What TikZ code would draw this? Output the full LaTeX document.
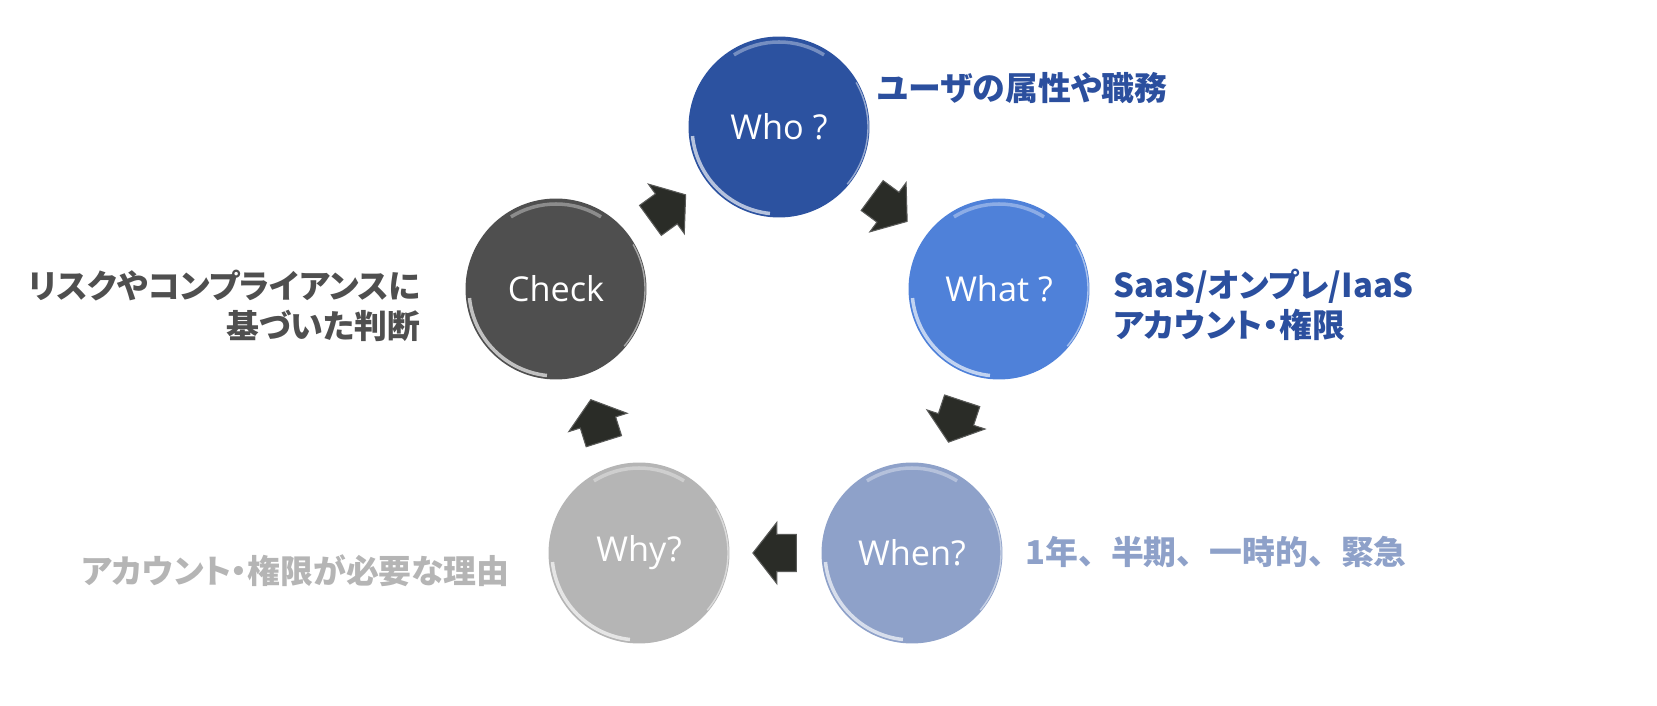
\documentclass[tikz,border=0pt]{standalone}
\usepackage{fontspec}
\setmainfont{Open Sans}
\newfontfamily\jpfont{Noto Sans CJK JP}[RawFeature=+palt]
\newfontfamily\jpfull{Noto Sans CJK JP}
\usetikzlibrary{calc,shapes.arrows}
\definecolor{whoBlue}{RGB}{44,82,160}
\definecolor{whatBlue}{RGB}{79,129,217}
\definecolor{whenBlue}{RGB}{142,161,201}
\definecolor{whyGray}{RGB}{181,181,181}
\definecolor{checkGray}{RGB}{79,79,79}
\definecolor{arrowDark}{RGB}{42,44,39}
\definecolor{labelBlue}{RGB}{43,79,158}

% light rim on a stage circle
\newcommand{\rim}[1]{%
  \draw[white, opacity=0.65, line width=2pt] ([shift={(186:87)}]#1.center) arc[start angle=186, end angle=264, radius=87];
  \draw[white, opacity=0.35, line width=2pt] ([shift={(58:85)}]#1.center) arc[start angle=58, end angle=122, radius=85];
  \draw[white, opacity=0.5, line width=0.8pt] ([shift={(-40:89)}]#1.center) arc[start angle=-40, end angle=30, radius=89];
}

\begin{document}
\begin{tikzpicture}[x=0.02cm,y=0.02cm,
    stage/.style={circle, fill=#1, minimum size=3.62cm, inner sep=0pt, text=white,
      font=\fontsize{19.5}{23}\selectfont},
    flow/.style={single arrow, fill=arrowDark, draw=gray!55!arrowDark, line width=0.6pt,
      text width=0.56cm, text height=0.72cm, text depth=0pt,
      single arrow head extend=0.24cm, single arrow tip angle=104,
      inner sep=0pt, pos=0.43, sloped, allow upside down},
    note/.style={font=\jpfont\bfseries\fontsize{18.7}{22.8}\selectfont, inner sep=0pt}]

    \useasboundingbox (0,0) rectangle (1657,706);

    % the five stages
    \node[stage=whoBlue]   (who)   at (779,579) {Who ?};
    \node[stage=whatBlue]  (what)  at (999,417) {What ?};
    \node[stage=whenBlue]  (when)  at (912,153) {When?};
    \node[stage=whyGray]   (why)   at (639,153) {Why?};
    \node[stage=checkGray] (check) at (556,417) {Check};
    \rim{who} \rim{what} \rim{when} \rim{why} \rim{check}

    % block arrows round the cycle
    \path (check) -- (who)   node[flow] (a1) {};
    \path (who)   -- (what)  node[flow] (a2) {};
    \path (what)  -- (when)  node[flow] (a3) {};
    \path (when)  -- (why)   node[flow] (a4) {};
    \path (why)   -- (check) node[flow] (a5) {};

    % notes beside the stages
    \node[note, text=labelBlue, anchor=west] (whoNote) at (877,618) {ユーザの属性や職務};
    \node[note, text=labelBlue, anchor=west, align=left] (whatNote) at (1113,401)
        {SaaS/オンプレ/IaaS\\アカウント・権限};
    \node[note, font=\jpfull\bfseries\fontsize{18.7}{22.8}\selectfont, text=whenBlue, anchor=west]
        (whenNote) at (1025,154) {1年、半期、一時的、緊急};
    \node[note, text=whyGray, anchor=east] (whyNote) at (510,135) {アカウント・権限が必要な理由};
    \node[note, text=checkGray, anchor=east, align=right] (checkNote) at (421,400)
        {リスクやコンプライアンスに\\基づいた判断};

\end{tikzpicture}
\end{document}
